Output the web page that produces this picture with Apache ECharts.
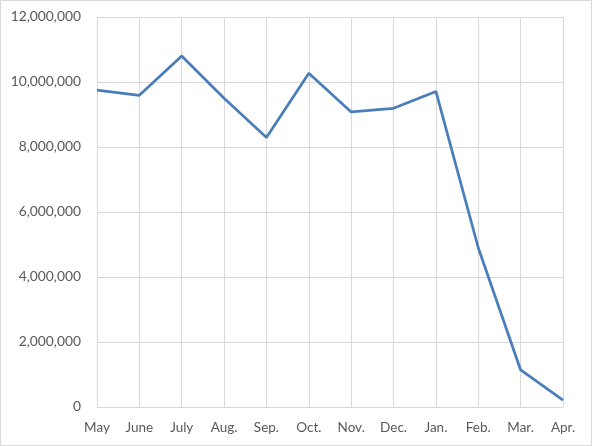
<!DOCTYPE html>
<html>
<head>
<meta charset="utf-8">
<script src="https://cdn.jsdelivr.net/npm/echarts@6/dist/echarts.min.js"></script>
<style>
  html, body { margin: 0; padding: 0; background: #fff; }
  #chart { width: 592px; height: 446px; }
</style>
</head>
<body>
<div id="chart"></div>
<script>
var months = ["May", "June", "July", "Aug.", "Sep.", "Oct.", "Nov.", "Dec.", "Jan.", "Feb.", "Mar.", "Apr."];
var values = [9750000, 9590000, 10800000, 9500000, 8290000, 10270000, 9080000, 9190000, 9710000, 4900000, 1140000, 210000];
var yTicks = [0, 2000000, 4000000, 6000000, 8000000, 10000000, 12000000];

var myChart = echarts.init(document.getElementById("chart"));

var textColor = "#595959";
var font = "Lato, 'Open Sans', sans-serif";

var option = {
  animation: false,
  backgroundColor: "#fff",
  graphic: [{
    type: "rect",
    shape: { x: 0.5, y: 0.5, width: 591, height: 445 },
    style: { fill: "none", stroke: "#d9d9d9", lineWidth: 1 },
    silent: true
  }],
  grid: {
    left: 97,
    right: 29,
    top: 17,
    bottom: 39,
    containLabel: false
  },
  xAxis: {
    type: "category",
    data: months,
    boundaryGap: false,
    axisLine: { show: true, lineStyle: { color: "#d9d9d9", width: 1 } },
    axisTick: { show: false },
    splitLine: { show: true, lineStyle: { color: "#d9d9d9", width: 1 } },
    axisLabel: {
      color: textColor,
      fontFamily: font,
      fontSize: 13.5,
      margin: 14
    }
  },
  yAxis: {
    type: "value",
    min: yTicks[0],
    max: yTicks[yTicks.length - 1],
    interval: 2000000,
    axisLine: { show: false },
    axisTick: { show: false },
    splitLine: { show: true, lineStyle: { color: "#d9d9d9", width: 1 } },
    axisLabel: {
      color: textColor,
      fontFamily: font,
      fontSize: 13.8,
      margin: 16,
      formatter: function (v) {
        return v.toLocaleString("en-US");
      }
    }
  },
  series: [{
    type: "line",
    data: values,
    symbol: "none",
    lineStyle: { color: "#4a7ebb", width: 2.75 },
    itemStyle: { color: "#4a7ebb" }
  }]
};

myChart.setOption(option);
</script>
</body>
</html>
